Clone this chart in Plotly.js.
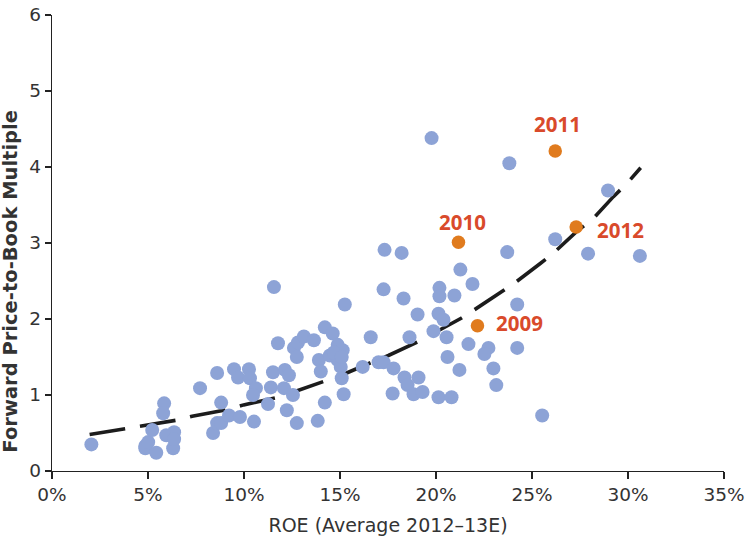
<!DOCTYPE html>
<html>
<head>
<meta charset="utf-8">
<script src="https://cdn.plot.ly/plotly-3.0.1.min.js"></script>
<style>html,body{margin:0;padding:0;background:#fff;}#chart{width:747px;height:544px;}</style>
</head>
<body>
<div id="chart"></div>
<script>
// ROE (%) and forward P/B for the peer banks (blue dots)
const blueRoe = [2.05,4.86,4.86,5.01,5.43,5.22,5.84,5.79,5.95,6.36,6.31,6.36,
  7.71,8.60,8.81,8.39,8.60,8.81,9.22,9.79,10.52,9.48,9.69,10.26,10.31,10.62,10.47,
  11.56,11.77,11.51,11.40,11.25,12.13,12.34,12.08,12.55,12.23,12.75,12.60,12.75,12.81,
  13.12,13.64,13.84,14.21,13.90,14.00,14.21,14.62,14.88,15.14,14.47,14.88,15.04,14.68,15.09,
  15.25,16.60,15.09,15.19,16.18,17.01,17.32,18.21,17.27,18.31,19.04,18.62,17.27,17.79,
  18.36,19.09,18.52,17.74,18.83,19.30,20.13,20.81,19.77,23.82,28.96,26.21,27.92,30.62,
  23.71,20.18,20.18,20.96,21.27,21.90,24.23,20.13,20.39,19.87,20.55,21.69,22.73,22.52,
  24.23,20.60,21.22,22.99,23.14,25.53];
const bluePb = [0.35,0.33,0.30,0.38,0.24,0.54,0.89,0.76,0.47,0.51,0.30,0.42,
  1.09,1.29,0.90,0.50,0.63,0.63,0.73,0.71,0.65,1.34,1.23,1.34,1.22,1.09,1.00,
  2.42,1.68,1.30,1.10,0.88,1.33,1.26,1.09,1.00,0.80,0.63,1.62,1.50,1.69,
  1.77,1.72,0.66,0.90,1.46,1.31,1.89,1.81,1.66,1.59,1.52,1.46,1.37,1.56,1.50,
  2.19,1.76,1.22,1.01,1.37,1.43,2.91,2.87,2.39,2.27,2.06,1.76,1.43,1.35,
  1.23,1.23,1.13,1.02,1.01,1.04,0.97,0.97,4.38,4.05,3.69,3.05,2.86,2.83,
  2.88,2.41,2.30,2.31,2.65,2.46,2.19,2.07,1.99,1.84,1.76,1.67,1.62,1.54,
  1.62,1.50,1.33,1.35,1.13,0.73];

// Highlighted years (orange dots)
const yearLabels = ["2009","2010","2011","2012"];
const yearRoe = [22.16,21.17,26.21,27.30];
const yearPb = [1.91,3.01,4.21,3.21];

// Trend line
const trendRoe = [1.96,3.75,4.70,6.52,7.30,9.18,9.98,11.75,12.58,14.21,15.07,16.74,17.52,
  19.06,19.83,21.31,22.05,23.35,24.13,25.43,26.09,27.36,28.11,29.24,29.93,30.66];
const trendPb = [0.48,0.55,0.59,0.67,0.72,0.81,0.87,0.97,1.04,1.18,1.26,1.44,1.52,
  1.70,1.81,2.01,2.13,2.34,2.48,2.73,2.86,3.16,3.30,3.61,3.78,3.99];

// axis ticks
const xTicks = [0,5,10,15,20,25,30,35];
const yTicks = [0,1,2,3,4,5,6];

const FONT = "'DejaVu Sans', Verdana, sans-serif";
const LFONT = "'Open Sans', 'DejaVu Sans', sans-serif";
const TXT = "#333333";
const BLUE = "#8DA3D6";
const ORANGE = "#E07B1E";
const LABEL = "#D94A2B";

// label offsets (pixels) relative to each orange dot
const labelShift = {"2009":[42,3],"2010":[4,20],"2011":[2,27],"2012":[44,-3]};

const traces = [
  {x: trendRoe, y: trendPb, type: "scatter", mode: "lines",
   line: {color: "#1c1c1c", width: 3.6, dash: "36px,15px"}, hoverinfo: "skip"},
  {x: blueRoe, y: bluePb, type: "scatter", mode: "markers",
   marker: {color: BLUE, size: 14, line: {width: 0}}},
  {x: yearRoe, y: yearPb, type: "scatter", mode: "markers",
   marker: {color: ORANGE, size: 13.5, line: {width: 0}}}
];

const annotations = yearLabels.map((t, i) => ({
  x: yearRoe[i], y: yearPb[i], xref: "x", yref: "y", text: t, showarrow: false,
  xshift: labelShift[t][0], yshift: labelShift[t][1],
  font: {family: LFONT, size: 20.5, color: LABEL, weight: "bold"}
}));
annotations.push({
  xref: "paper", yref: "paper", x: -0.062, y: 0.416, text: "Forward Price-to-Book Multiple",
  textangle: -90, showarrow: false, xanchor: "center", yanchor: "middle",
  font: {family: FONT, size: 19.5, color: TXT, weight: "bold"}
});

const layout = {
  width: 747, height: 544,
  margin: {l: 52, r: 23, t: 15, b: 73},
  paper_bgcolor: "#fff", plot_bgcolor: "#fff",
  showlegend: false,
  font: {family: FONT, color: TXT},
  xaxis: {
    range: [0, 35], tickvals: xTicks, ticktext: xTicks.map(v => v + "%"),
    showgrid: false, zeroline: false, showline: true, linecolor: "#222", linewidth: 1.2,
    ticks: "outside", ticklen: 7, tickcolor: "#222", tickwidth: 1.2,
    tickfont: {family: FONT, size: 18.5, color: TXT},
    title: {text: "ROE (Average 2012\u201313E)", font: {family: FONT, size: 19, color: TXT}, standoff: 14}
  },
  yaxis: {
    range: [0, 6], tickvals: yTicks,
    showgrid: false, zeroline: false, showline: true, linecolor: "#222", linewidth: 1.2,
    ticks: "outside", ticklen: 6, tickcolor: "#222", tickwidth: 1.2,
    tickfont: {family: FONT, size: 18.5, color: TXT}
  },
  annotations: annotations
};

Plotly.newPlot("chart", traces, layout, {displayModeBar: false, staticPlot: true});
</script>
</body>
</html>
